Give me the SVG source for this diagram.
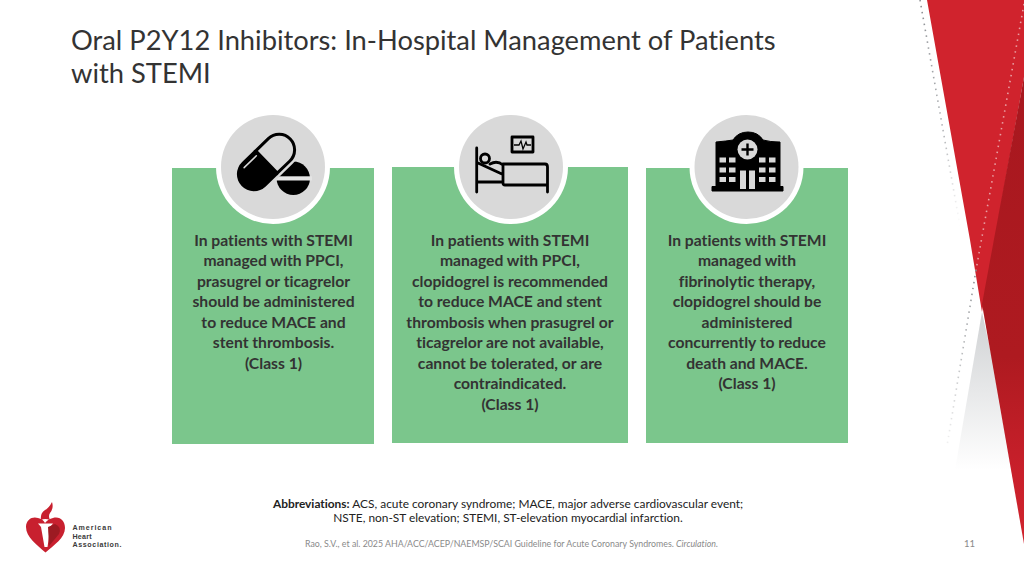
<svg xmlns="http://www.w3.org/2000/svg" width="1024" height="576" viewBox="0 0 1024 576">
<style>
text{font-family:Lato,"Liberation Sans",sans-serif;font-variant-ligatures:none}
.t{font-size:27.3px;fill:#333}
.b{font-size:15.7px;font-weight:700;fill:#333;text-anchor:middle}
.a{font-size:11.9px;fill:#222;text-anchor:middle}
.box{fill:#7bc68c}
.ring{fill:#fff}
.disc{fill:#d9d9d9}
.ln{fill:none;stroke:#000;stroke-width:2.8;stroke-linecap:round;stroke-linejoin:round}
.w{fill:#d9d9d9}
.lg{font-family:"Liberation Sans",Arial,sans-serif;font-size:7.1px;font-weight:700;fill:#3a3a3a}
</style>
<defs>
<linearGradient id="dk" x1="0" y1="0" x2="0" y2="1"><stop offset="0" stop-color="#a8181f"/><stop offset=".6" stop-color="#ae1a20"/><stop offset=".85" stop-color="#c9202b"/><stop offset="1" stop-color="#d0232d"/></linearGradient>
<linearGradient id="gy" x1="0" y1="0" x2="0" y2="1"><stop offset="0" stop-color="#cfd1d3"/><stop offset="1" stop-color="#fff"/></linearGradient>
<linearGradient id="gd" x1="0" y1="0" x2="0" y2="1"><stop offset="0" stop-color="#8a8d91"/><stop offset=".6" stop-color="#b5b7ba"/><stop offset="1" stop-color="#fff"/></linearGradient>
<linearGradient id="gd2" gradientUnits="userSpaceOnUse" x1="0" y1="270" x2="0" y2="450"><stop offset="0" stop-color="#8a8d91"/><stop offset="1" stop-color="#f4f4f4"/></linearGradient>
</defs>
<g id="decor">
<path d="M982 312L955 470L1016 470Z" fill="url(#gy)"/>
<path d="M927 0H1024V77L982 312L970 240Z" fill="#d0232d"/>
<path d="M1024 77L982 304L1024 544Z" fill="url(#dk)"/>
<path d="M920 0L960 226" fill="none" stroke="url(#gd)" stroke-width="1.6" stroke-dasharray="1.5 4.5"/>
<path d="M1024 4L976 270" fill="none" stroke="#e8a0a4" stroke-width="1.6" stroke-dasharray="1.5 4.5"/>
<path d="M976 270L947 446" fill="none" stroke="url(#gd2)" stroke-width="1.6" stroke-dasharray="1.5 4.5"/>
</g>
<g id="title"><text class="t" x="71" y="50">Oral P2Y12 Inhibitors: In-Hospital Management of Patients</text><text class="t" x="71" y="83">with STEMI</text></g>
<g id="card1">
<rect class="box" x="172" y="168" width="202" height="276"/>
<circle class="ring" cx="273" cy="167" r="57"/><circle class="disc" cx="273" cy="167" r="52"/>
<circle cx="293.300" cy="178.300" r="16.700" fill="#000"/>
<rect x="275" y="176.300" width="37" height="4.200" fill="#e4e4e4"/>
<g transform="translate(266.500 162) rotate(-44)">
<path d="M-17.500-15.500H17.500A15.500 15.500 0 0 1 17.500 15.500H-17.500A15.500 15.500 0 0 1 -17.500 -15.500Z" fill="#d9d9d9" stroke="#d9d9d9" stroke-width="8"/>
<path d="M0-15.500H17.500A15.500 15.500 0 0 1 17.500 15.500H0Z" fill="#d9d9d9" stroke="#000" stroke-width="3"/>
<path d="M0-17H-17.500A17 17 0 0 0 -17.500 17H0Z" fill="#000"/>
<path d="M-3-11.500H-20" stroke="#d9d9d9" stroke-width="1.500" fill="none" stroke-linecap="round"/>
</g>
<text class="b"><tspan x="273.500" y="246">In patients with STEMI</tspan><tspan x="273.500" y="266">managed with PPCI,</tspan><tspan x="273.500" y="287">prasugrel or ticagrelor</tspan><tspan x="273.500" y="307">should be administered</tspan><tspan x="273.500" y="328">to reduce MACE and</tspan><tspan x="273.500" y="348">stent thrombosis.</tspan><tspan x="273.500" y="369">(Class 1)</tspan></text>
</g>
<g id="card2">
<rect class="box" x="392" y="167" width="236" height="276"/>
<circle class="ring" cx="511" cy="167" r="57"/><circle class="disc" cx="511" cy="167" r="52"/>
<path class="ln" d="M476.700 148V192M476.700 182H503M503 164H545Q547.500 164 547.500 167V192M503 164V183Q503 185 505 185H547.500M478 163L503 174.500M490 164Q497 160 503 165"/>
<circle class="ln" cx="485" cy="158.500" r="4.500"/>
<rect class="ln" x="512" y="137" width="21" height="15"/>
<path d="M514 145H519L521 141L523 149L526 142L527 145H531" fill="none" stroke="#000" stroke-width="1.300"/>
<text class="b"><tspan x="510" y="246">In patients with STEMI</tspan><tspan x="510" y="266">managed with PPCI,</tspan><tspan x="510" y="287">clopidogrel is recommended</tspan><tspan x="510" y="307">to reduce MACE and stent</tspan><tspan x="510" y="328">thrombosis when prasugrel or</tspan><tspan x="510" y="348">ticagrelor are not available,</tspan><tspan x="510" y="369">cannot be tolerated, or are</tspan><tspan x="510" y="389">contraindicated.</tspan><tspan x="510" y="410">(Class 1)</tspan></text>
</g>
<g id="card3">
<rect class="box" x="646" y="168" width="202" height="275"/>
<circle class="ring" cx="746.500" cy="167" r="57"/><circle class="disc" cx="746.500" cy="167" r="52"/>
<path d="M716 142Q727 141 733 140Q738 132 748 132Q758 132 763 140Q770 142 780 142V186.500H783V191H712V186.500H716Z" fill="#000" stroke="#000" stroke-width="1" stroke-linejoin="round"/>
<circle class="w" cx="747.500" cy="149.500" r="10"/>
<path d="M747.500 143.500V155.500M741.500 149.500H753.500" stroke="#000" stroke-width="2.400" fill="none"/>
<g class="w"><rect x="719.500" y="157.500" width="6.500" height="5"/><rect x="729" y="157.500" width="6.500" height="5"/><rect x="719.500" y="167.500" width="6.500" height="5"/><rect x="729" y="167.500" width="6.500" height="5"/><rect x="719.500" y="177" width="6.500" height="5"/><rect x="729" y="177" width="6.500" height="5"/><rect x="759" y="157.500" width="6.500" height="5"/><rect x="769" y="157.500" width="6.500" height="5"/><rect x="759" y="167.500" width="6.500" height="5"/><rect x="769" y="167.500" width="6.500" height="5"/><rect x="759" y="177" width="6.500" height="5"/><rect x="769" y="177" width="6.500" height="5"/><rect x="740" y="170.500" width="6" height="18.500"/><rect x="749" y="170.500" width="6" height="18.500"/></g>
<text class="b"><tspan x="747" y="246">In patients with STEMI</tspan><tspan x="747" y="266">managed with</tspan><tspan x="747" y="287">fibrinolytic therapy,</tspan><tspan x="747" y="307">clopidogrel should be</tspan><tspan x="747" y="328">administered</tspan><tspan x="747" y="348">concurrently to reduce</tspan><tspan x="747" y="369">death and MACE.</tspan><tspan x="747" y="389">(Class 1)</tspan></text>
</g>
<g id="abbrev"><text class="a"><tspan x="508" y="508"><tspan font-weight="700">Abbreviations:</tspan> ACS, acute coronary syndrome; MACE, major adverse cardiovascular event;</tspan><tspan x="508" y="522">NSTE, non-ST elevation; STEMI, ST-elevation myocardial infarction.</tspan></text></g>
<g id="footer"><text x="511.500" y="547" font-size="8.800" fill="#8a8a8a" text-anchor="middle">Rao, S.V., et al. 2025 AHA/ACC/ACEP/NAEMSP/SCAI Guideline for Acute Coronary Syndromes. <tspan font-style="italic">Circulation.</tspan></text><text x="969.500" y="547" font-size="9.500" fill="#8a8a8a" text-anchor="middle">11</text></g>
<g id="logo">
<path d="M45.500 552.500C37 545 26 537 26 527C26 519 33 516 38 518Q43 519 45 523Q48 519 53 518C60 516 65 521 65 528C65 538 54 545 45.500 552.500Z" fill="#c8202f"/>
<path d="M38 523.500L53 523.500L50.500 526.500L47.500 547L44.500 547L41 527Z" fill="#fff"/>
<path d="M48 527L55 524Q62 527 59 534L49 546Z" fill="#9c1a22"/>
<path d="M41 520Q40 513 45 510Q49 508 52 502Q54 508 50 513Q48 516 50 520Q45 518 41 520Z" fill="#c8202f"/>
<text class="lg" x="72.500" y="530" textLength="39" lengthAdjust="spacing">American</text><text class="lg" x="72.500" y="538.500" textLength="19" lengthAdjust="spacing">Heart</text><text class="lg" x="72.500" y="547" textLength="49" lengthAdjust="spacing">Association.</text>
</g>
</svg>
